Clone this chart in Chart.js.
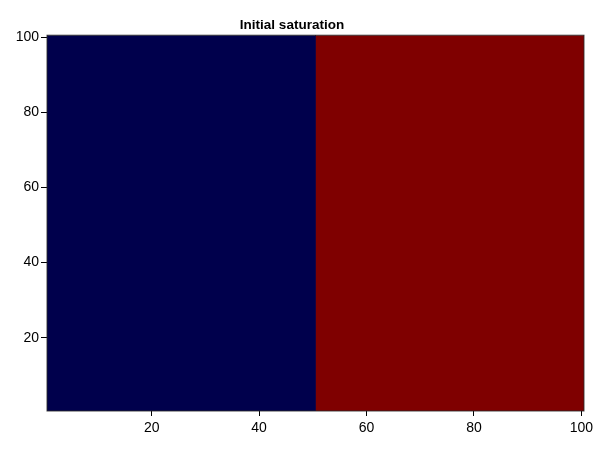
<!DOCTYPE html>
<html>
<head>
<meta charset="utf-8">
<script src="https://cdn.jsdelivr.net/npm/chart.js@4/dist/chart.umd.min.js"></script>
<style>
  html, body { margin: 0; padding: 0; background: #fff; }
  #wrap { width: 600px; height: 450px; }
</style>
</head>
<body>
<div id="wrap"><canvas id="c" width="600" height="450"></canvas></div>
<script>
// ---- data ----
const titleText = "Initial saturation";
const colEdges = [0.5, 50.5, 100.5];   // x cell-block boundaries
const rowEdges = [0.5, 100.5];         // y cell-block boundaries
const saturation = [[0, 1]];           // rows x column-blocks
const xTicks = [20, 40, 60, 80, 100];
const yTicks = [20, 40, 60, 80, 100];

// ---- styling ----
const cmapLow = "#00004C";
const cmapHigh = "#7F0000";
function colorFor(v) { return v >= 0.5 ? cmapHigh : cmapLow; }

const datasets = [];
for (let r = 0; r < rowEdges.length - 1; r++) {
  for (let c = 0; c < colEdges.length - 1; c++) {
    const x0 = colEdges[c], x1 = colEdges[c + 1];
    const y0 = rowEdges[r], y1 = rowEdges[r + 1];
    const col = colorFor(saturation[r][c]);
    datasets.push({
      data: [{x: x0, y: y0}, {x: x1, y: y0}, {x: x1, y: y1}, {x: x0, y: y1}, {x: x0, y: y0}],
      showLine: true,
      fill: 'shape',
      backgroundColor: col,
      borderColor: col,
      borderWidth: 0.6,
      pointRadius: 0,
      pointHoverRadius: 0,
      tension: 0
    });
  }
}

const frame = {
  id: 'frame',
  afterDatasetsDraw(chart) {
    const a = chart.chartArea, ctx = chart.ctx;
    ctx.save();
    ctx.strokeStyle = 'rgba(40,40,40,0.85)';
    ctx.lineWidth = 1;
    ctx.strokeRect(a.left, a.top, a.right - a.left, a.bottom - a.top);
    ctx.restore();
  }
};

const FONT = 'Liberation Sans, Arial, sans-serif';

new Chart(document.getElementById('c'), {
  type: 'scatter',
  data: { datasets },
  options: {
    responsive: false,
    animation: false,
    layout: { padding: { left: 0, right: 16, top: 0, bottom: 0 } },
    plugins: {
      legend: { display: false },
      tooltip: { enabled: false },
      title: {
        display: true,
        text: titleText,
        color: '#000',
        font: { family: FONT, size: 13.5, weight: 'bold', lineHeight: 1.2 },
        padding: { top: 17, bottom: 2 }
      }
    },
    scales: {
      x: {
        type: 'linear',
        min: colEdges[0],
        max: colEdges[colEdges.length - 1],
        afterBuildTicks(s) { s.ticks = xTicks.map(v => ({ value: v })); },
        afterFit(s) { s.height = 39; },
        grid: { drawOnChartArea: false, drawTicks: true, tickLength: 5, tickColor: '#000', tickWidth: 1 },
        border: { display: false },
        ticks: {
          color: '#000',
          padding: 4,
          maxRotation: 0,
          font: { family: FONT, size: 14 }
        }
      },
      y: {
        type: 'linear',
        min: rowEdges[0],
        max: rowEdges[rowEdges.length - 1],
        afterBuildTicks(s) { s.ticks = yTicks.map(v => ({ value: v })); },
        afterFit(s) { s.width = 47; },
        grid: { drawOnChartArea: false, drawTicks: true, tickLength: 6, tickColor: '#000', tickWidth: 1 },
        border: { display: false },
        ticks: {
          color: '#000',
          padding: 2,
          font: { family: FONT, size: 14 }
        }
      }
    }
  },
  plugins: [frame]
});
</script>
</body>
</html>
